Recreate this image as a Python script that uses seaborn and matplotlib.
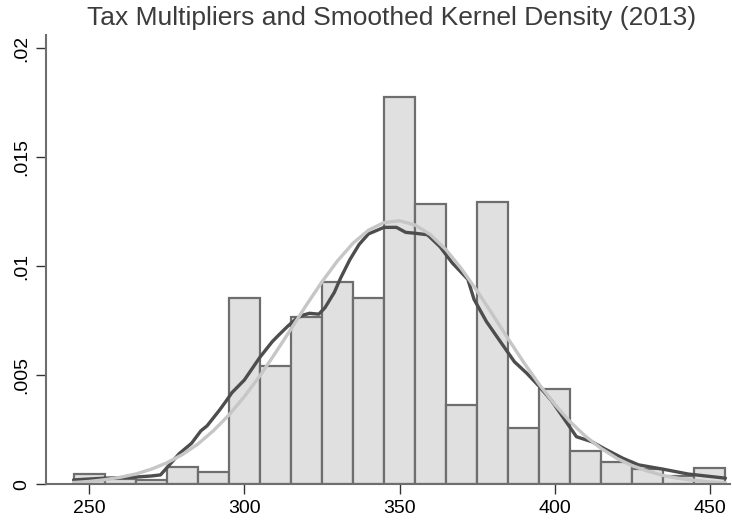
import numpy as np
import pandas as pd
import seaborn as sns
import matplotlib.pyplot as plt

# histogram bins (width 10) and densities
bin_left = [245, 255, 265, 275, 285, 295, 305, 315, 325, 335, 345,
            355, 365, 375, 385, 395, 405, 415, 425, 435, 445]
bin_height = [0.00049, 0.00025, 0.0002, 0.00077, 0.00055, 0.00856, 0.00543,
              0.00766, 0.00927, 0.00856, 0.01775, 0.01286, 0.00364, 0.01292,
              0.00257, 0.00436, 0.00154, 0.00100, 0.00070, 0.00040, 0.00073]
bin_width = 10

# kernel density (dark line)
kd_x = [245, 250, 255, 260, 265, 270, 273, 275, 279, 283, 286, 288, 292, 294,
        296, 300, 305, 309, 311, 314, 317, 319, 321, 324, 326, 329, 331, 334,
        337, 340, 345, 349, 352, 355, 359, 363, 367, 370, 372, 374, 378, 382,
        387, 391, 395, 399, 404, 407, 412, 416, 422, 427, 435, 443, 455]
kd_y = [0.0002, 0.00024, 0.00028, 0.0003, 0.00033, 0.00038, 0.00043, 0.00075,
        0.0014, 0.00188, 0.00245, 0.00268, 0.0034, 0.00379, 0.0042, 0.00478,
        0.00582, 0.00654, 0.00683, 0.00725, 0.00762, 0.00776, 0.00784, 0.0078,
        0.0081, 0.0088, 0.00945, 0.0103, 0.011, 0.01148, 0.01178, 0.01178,
        0.01155, 0.01151, 0.01144, 0.0109, 0.01015, 0.0097, 0.0094, 0.00848,
        0.00746, 0.00664, 0.00562, 0.00509, 0.00449, 0.00383, 0.0028, 0.00218,
        0.00195, 0.00163, 0.00119, 0.00089, 0.00069, 0.00047, 0.00028]

# normal density (light line)
norm_x = [245, 250, 255, 260, 265, 270, 275, 280, 285, 290, 295, 300, 305, 310,
          315, 320, 325, 330, 335, 340, 345, 350, 355, 360, 365, 370, 375, 380,
          385, 390, 395, 400, 405, 410, 415, 420, 425, 430, 435, 440, 445, 450, 455]
norm_y = [0.00008, 0.00013, 0.00021, 0.00032, 0.00047, 0.00069, 0.00098,
          0.00136, 0.00184, 0.00245, 0.00317, 0.00402, 0.00497, 0.00602,
          0.00711, 0.00822, 0.00928, 0.01024, 0.01105, 0.01165, 0.0120,
          0.01208, 0.01189, 0.01144, 0.01075, 0.00987, 0.00886, 0.00778,
          0.00667, 0.00559, 0.00458, 0.00366, 0.00286, 0.00219, 0.00164,
          0.00119, 0.00085, 0.0006, 0.0004, 0.00027, 0.00018, 0.00011, 0.00007]

y_ticks = [0, 0.005, 0.01, 0.015, 0.02]
y_labels = ["0", ".005", ".01", ".015", ".02"]
x_ticks = [250, 300, 350, 400, 450]

sns.set_theme(style="white")
plt.rcParams['font.family'] = ['Liberation Sans', 'DejaVu Sans']

df = pd.DataFrame({"mid": [b + bin_width / 2 for b in bin_left],
                   "dens": bin_height})
edges = bin_left + [bin_left[-1] + bin_width]

fig = plt.figure(figsize=(7.32, 5.20), dpi=100)
ax = fig.add_axes([0.0624, 0.0687, 0.935, 0.864])

sns.histplot(data=df, x="mid", weights="dens", bins=edges, stat="count",
             color="#e0e0e0", edgecolor="#6e6e6e", linewidth=1.6, alpha=1, ax=ax)
sns.lineplot(x=kd_x, y=kd_y, color="#4d4d4d", lw=2.4, estimator=None, ax=ax)
sns.lineplot(x=norm_x, y=norm_y, color="#c6c6c6", lw=2.4, estimator=None, ax=ax)

ax.set_xlim(236, 456.5)
ax.set_ylim(0, 0.0206)
ax.set_xticks(x_ticks)
ax.set_xticklabels([str(t) for t in x_ticks])
ax.set_yticks(y_ticks)
ax.set_yticklabels(y_labels, rotation=90, va="center")
ax.set_xlabel("")
ax.set_ylabel("")

for s in ["top", "right"]:
    ax.spines[s].set_visible(False)
for s in ["left", "bottom"]:
    ax.spines[s].set_color("#6e6e6e")
    ax.spines[s].set_linewidth(1.5)
ax.tick_params(axis="both", length=7, width=1, color="#333333",
               labelsize=14, labelcolor="#000000", pad=4, left=True, bottom=True)

fig.text(0.535, 0.965, "Tax Multipliers and Smoothed Kernel Density (2013)",
         ha="center", va="center", fontsize=19, color="#3c3c3c")

fig.savefig("out.png", dpi=100)
